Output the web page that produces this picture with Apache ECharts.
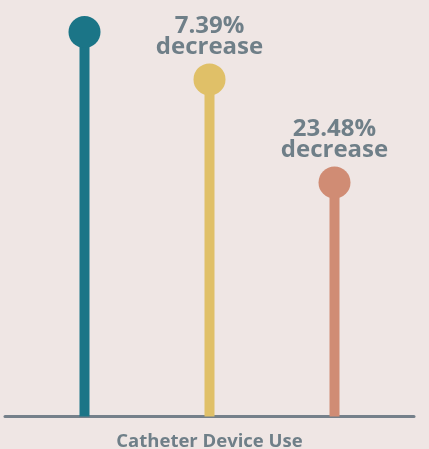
<!DOCTYPE html>
<html>
<head>
<meta charset="utf-8">
<style>
  html, body { margin: 0; padding: 0; background: #EFE6E4; }
  #chart { width: 429px; height: 449px; }
</style>
<script src="https://cdn.jsdelivr.net/npm/echarts@6/dist/echarts.min.js"></script>
</head>
<body>
<div id="chart"></div>
<script>
// Catheter device use, indexed to the first period (= 100)
const categories = ['Catheter Device Use'];
const seriesNames = ['Period 1', 'Period 2', 'Period 3'];
const seriesValues = [100, 92.61, 76.52];
const seriesColors = ['#1B7587', '#E0C068', '#D08C74'];

const textColor = '#6F7F88';
const fontFamily = '"Open Sans", "Noto Sans", sans-serif';

function decreaseLabel(i) {
  if (i === 0) return '';
  const pct = (1 - seriesValues[i] / seriesValues[0]) * 100;
  return pct.toFixed(2) + '%\ndecrease';
}

const series = seriesValues.map((v, i) => ({
  name: seriesNames[i],
  type: 'bar',
  data: [v],
  barWidth: 10,
  barGap: '1150%',
  itemStyle: { color: seriesColors[i] },
  silent: true,
  markPoint: {
    symbol: 'circle',
    symbolSize: 32,
    itemStyle: { color: seriesColors[i] },
    data: [{ type: 'max' }],
    label: {
      show: i > 0,
      position: 'top',
      distance: 6,
      formatter: () => decreaseLabel(i),
      color: textColor,
      fontFamily: fontFamily,
      fontWeight: 700,
      fontSize: 24,
      lineHeight: 21,
      align: 'center'
    }
  }
}));

const chart = echarts.init(document.getElementById('chart'), null, { renderer: 'canvas' });
chart.setOption({
  backgroundColor: '#EFE6E4',
  animation: false,
  grid: { left: 5, right: 15, top: 0, bottom: 32.5, containLabel: false, outerBoundsMode: 'none' },
  xAxis: {
    type: 'category',
    data: categories,
    axisTick: { show: false },
    axisLabel: { show: false },
    axisLine: { lineStyle: { color: '#75808A', width: 3 } },
    name: categories[0],
    nameLocation: 'middle',
    nameGap: 16,
    nameTextStyle: {
      color: textColor,
      fontFamily: fontFamily,
      fontWeight: 700,
      fontSize: 18.5
    }
  },
  yAxis: {
    type: 'value',
    min: 40,
    max: 105,
    show: false,
    splitLine: { show: false }
  },
  series: series
});
</script>
</body>
</html>
